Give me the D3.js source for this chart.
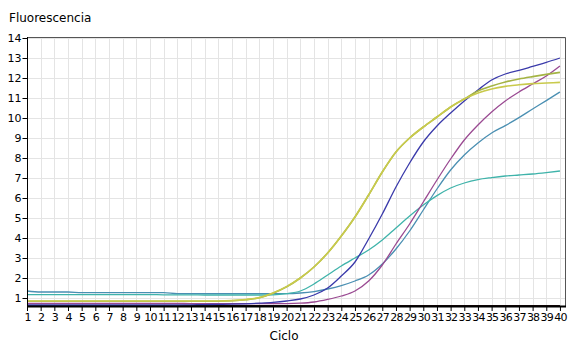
<!DOCTYPE html>
<html><head><meta charset="utf-8">
<script src="https://cdn.jsdelivr.net/npm/d3@7"></script>
<style>body{margin:0;background:#fff}svg{display:block}text{font-family:"DejaVu Sans",Verdana,sans-serif}</style>
</head><body><svg id="c" width="580" height="356"></svg>
<script>
const cycles = d3.range(1, 41);
const yTicks = [1,2,3,4,5,6,7,8,9,10,11,12,13,14];
const xTicks = cycles;
const seriesNames = ["black","steel","turq","purple","blue","olive","yellow"];
const black = [0.62,0.62,0.62,0.62,0.62,0.62,0.62,0.62,0.62,0.62,0.62,0.62,0.62,0.62,0.62,0.62,0.62,0.62,0.62,0.62,0.62,0.62,0.62,0.62,0.62,0.62,0.62,0.62,0.62,0.62,0.62,0.62,0.62,0.62,0.62,0.62,0.62,0.62,0.62,0.62];
const steel = [1.35,1.3,1.3,1.3,1.27,1.27,1.27,1.27,1.27,1.27,1.27,1.22,1.22,1.22,1.22,1.22,1.22,1.22,1.22,1.22,1.25,1.32,1.45,1.62,1.85,2.15,2.7,3.45,4.35,5.4,6.45,7.4,8.15,8.75,9.25,9.62,10.02,10.45,10.87,11.3];
const turq = [1.17,1.17,1.17,1.17,1.17,1.17,1.17,1.17,1.17,1.17,1.16,1.16,1.16,1.15,1.15,1.15,1.15,1.15,1.16,1.22,1.35,1.7,2.15,2.6,3.0,3.4,3.9,4.5,5.1,5.65,6.12,6.5,6.75,6.92,7.02,7.1,7.15,7.2,7.27,7.35];
const purple = [0.73,0.73,0.73,0.73,0.73,0.73,0.73,0.73,0.73,0.73,0.73,0.73,0.72,0.72,0.72,0.72,0.72,0.72,0.72,0.72,0.74,0.8,0.93,1.1,1.35,1.85,2.65,3.7,4.7,5.8,6.9,7.95,8.9,9.65,10.3,10.85,11.3,11.7,12.1,12.6];
const blue = [0.65,0.65,0.65,0.65,0.65,0.65,0.65,0.65,0.65,0.65,0.65,0.65,0.66,0.67,0.68,0.69,0.71,0.74,0.78,0.85,0.95,1.15,1.5,2.1,2.8,3.95,5.2,6.55,7.75,8.8,9.6,10.25,10.85,11.4,11.9,12.2,12.38,12.58,12.78,13.0];
const olive = [0.84,0.84,0.84,0.84,0.84,0.84,0.84,0.84,0.84,0.84,0.84,0.84,0.84,0.84,0.84,0.86,0.91,1.01,1.24,1.56,2.0,2.55,3.25,4.1,5.05,6.15,7.3,8.3,9.0,9.55,10.05,10.55,10.95,11.35,11.6,11.8,11.95,12.07,12.18,12.28];
const yellow = [0.85,0.85,0.85,0.85,0.85,0.85,0.85,0.85,0.85,0.85,0.85,0.85,0.85,0.85,0.85,0.87,0.92,1.02,1.25,1.57,2.0,2.55,3.25,4.1,5.05,6.15,7.3,8.3,9.0,9.55,10.05,10.55,10.95,11.25,11.45,11.58,11.66,11.72,11.75,11.78];
const colors = {black:"#1a0a0a", steel:"#4a8fb2", turq:"#3fb3aa", purple:"#9a4a92", blue:"#3a3aaa", olive:"#a4b444", yellow:"#c9ca4c"};
const dataMap = {black, steel, turq, purple, blue, olive, yellow};

const svg = d3.select("#c");
const L = 27, R = 565, T = 38, B = 306;
const x = d3.scaleLinear().domain([1, 40.37]).range([L, R]);
const y = d3.scaleLinear().domain([0.6, 14]).range([B, T]);

// grid
const g = svg.append("g");
g.selectAll("line.v").data(xTicks).join("line")
  .attr("x1", d => Math.round(x(d)) + 0.5).attr("x2", d => Math.round(x(d)) + 0.5)
  .attr("y1", T).attr("y2", B).attr("stroke", "#e4e4e4");
g.selectAll("line.h").data(yTicks).join("line")
  .attr("y1", d => Math.round(y(d)) + 0.5).attr("y2", d => Math.round(y(d)) + 0.5)
  .attr("x1", L).attr("x2", R).attr("stroke", "#e4e4e4");

// frame top/right
svg.append("path").attr("d", `M${L},${T - 0.5}H${R + 0.5}V${B}`).attr("fill", "none").attr("stroke", "#555").attr("stroke-width", 1);

// lines
const line = d3.line().x((d, i) => x(cycles[i])).y(d => y(d)).curve(d3.curveMonotoneX);
seriesNames.forEach(n => {
  svg.append("path").datum(dataMap[n]).attr("d", line)
    .attr("fill", "none").attr("stroke", colors[n])
    .attr("stroke-width", n === "yellow" || n === "olive" ? 1.6 : 1.3);
});

// axes
const ya = d3.axisLeft(y).tickValues(yTicks).tickSize(5).tickFormat(d3.format("d"));
const yg = svg.append("g").attr("transform", `translate(${L + 0.5},0)`).call(ya);
yg.select(".domain").attr("stroke", "#000").attr("d", `M0,${T - 1}V${B}`);
yg.selectAll(".tick line").attr("stroke", "#000");
yg.selectAll(".tick text").attr("x", -6).attr("font-size", 11).attr("fill", "#000").attr("font-family", "DejaVu Sans");

const xa = d3.axisBottom(x).tickValues(xTicks).tickSize(5).tickFormat(d3.format("d"));
const xg = svg.append("g").attr("transform", `translate(0,${B})`).call(xa);
xg.select(".domain").attr("stroke", "#000").attr("stroke-width", 2).attr("d", `M${L},0.5H${R + 1}`);
xg.selectAll(".tick line").attr("stroke", "#000").attr("y1", 1).attr("y2", 5);
xg.selectAll(".tick text").attr("y", 7).attr("font-size", 11).attr("fill", "#000")
  .attr("letter-spacing", "-0.8").attr("font-family", "DejaVu Sans");

svg.append("text").attr("x", 9).attr("y", 22).attr("font-size", 12).attr("fill", "#000").text("Fluorescencia");
svg.append("text").attr("x", 284).attr("y", 340).attr("font-size", 12).attr("text-anchor", "middle").attr("fill", "#000").text("Ciclo");
</script></body></html>
